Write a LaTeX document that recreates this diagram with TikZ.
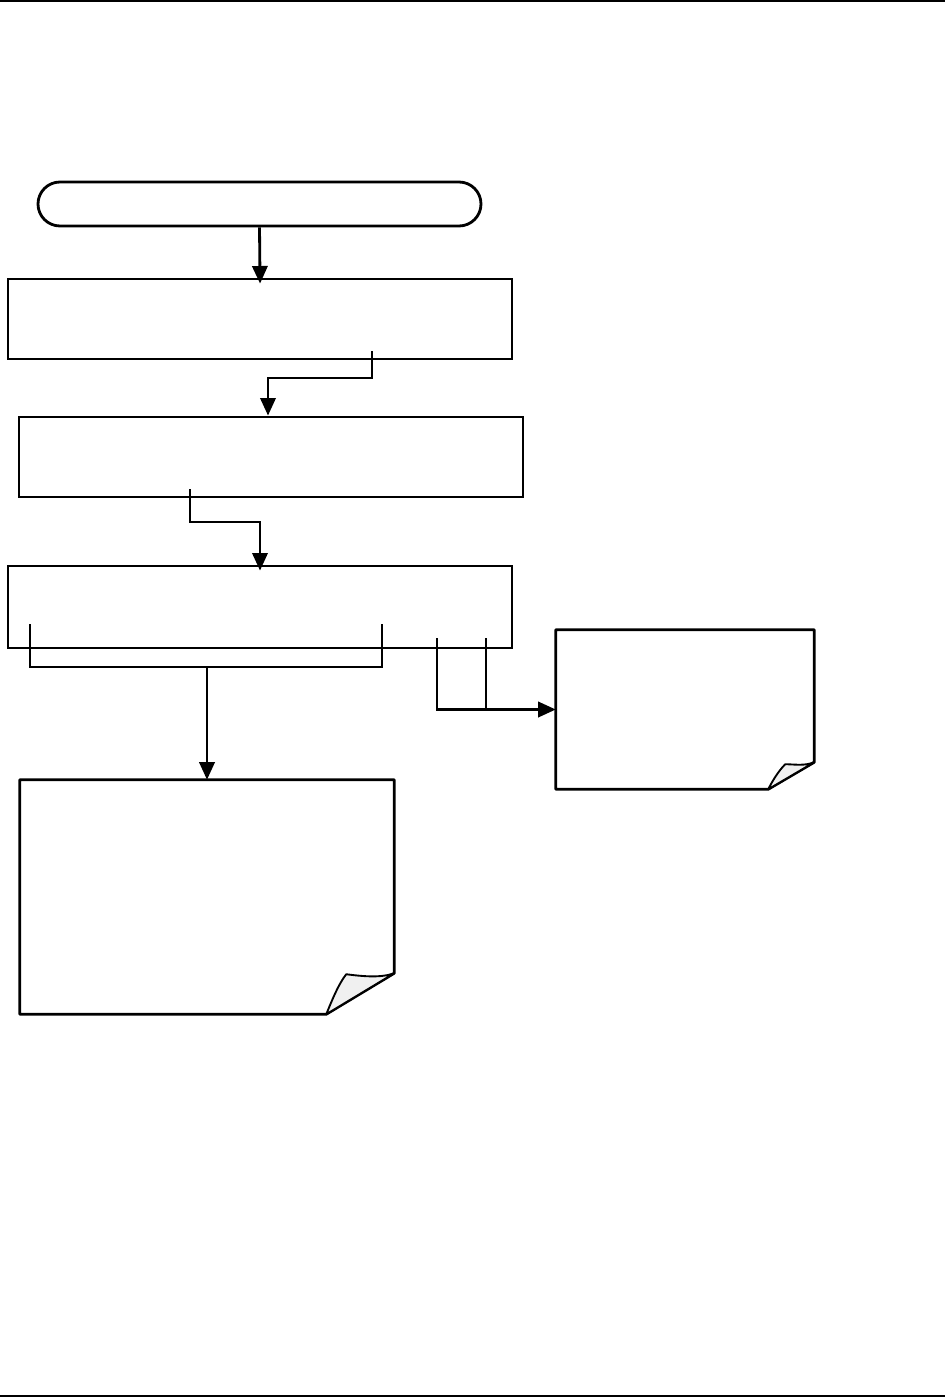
\documentclass[tikz,border=0pt]{standalone}
\usetikzlibrary{arrows.meta, calc}

\begin{document}
\begin{tikzpicture}[
  x=0.3mm, y=-0.3mm,
  >={Triangle[length=15pt, width=13pt]},
  stepbox/.style={draw, line width=2.4pt, minimum width=151.2mm,
    minimum height=24mm, inner sep=0pt},
  startbox/.style={draw, line width=2.4pt, rounded corners=6.6mm,
    minimum width=132.9mm, minimum height=13.2mm, inner sep=0pt},
  paper/.style={inner sep=0pt},
  conn/.style={line width=2.4pt},
  edge/.style={line width=2.4pt, line join=round},
  curl/.style={line width=1.6pt, fill=gray!12, line join=round},
  rule/.style={line width=1.6pt},
]

% Page frame
\useasboundingbox (0,0) rectangle (945,1398);
\draw[rule] (0,1) -- (945,1);
\draw[rule] (0,1396) -- (945,1396);

% =============================================
% Steps
% =============================================

\node[startbox] (start) at (259.5,204) {};
\node[stepbox] (box1) at (260,319) {};
\node[stepbox] (box2) at (271,457) {};
\node[stepbox, minimum height=24.6mm] (box3) at (260,607) {};

% =============================================
% Documents
% =============================================

\node[paper, minimum width=77.4mm, minimum height=47.7mm] (docA) at (685,709.5) {};
\node[paper, minimum width=112.2mm, minimum height=70.2mm] (docB) at (207,897) {};

% Doc A outline with folded corner
\coordinate (foldA1) at ($(docA.south east)+(-46,0)$);
\coordinate (foldA2) at ($(docA.south east)+(0,-27)$);
\draw[edge] (docA.north west) -- (docA.north east) -- (foldA2)
  -- (foldA1) -- (docA.south west) -- cycle;
\draw[curl] (foldA1) -- (foldA2)
  .. controls ($(foldA2)+(-10,4)$) and ($(foldA2)+(-20,2)$) .. ($(docA.south east)+(-29,-25)$)
  .. controls ($(docA.south east)+(-36,-18)$) and ($(docA.south east)+(-42,-8)$) .. (foldA1);

% Doc B outline with folded corner
\coordinate (foldB1) at ($(docB.south east)+(-68,0)$);
\coordinate (foldB2) at ($(docB.south east)+(0,-41)$);
\draw[edge] (docB.north west) -- (docB.north east) -- (foldB2)
  -- (foldB1) -- (docB.south west) -- cycle;
\draw[curl] (foldB1) -- (foldB2)
  .. controls ($(foldB2)+(-14,5)$) and ($(foldB2)+(-32,3)$) .. ($(docB.south east)+(-48,-40)$)
  .. controls ($(docB.south east)+(-56,-30)$) and ($(docB.south east)+(-63,-12)$) .. (foldB1);

% =============================================
% Connectors
% =============================================

\draw[conn, ->, shorten >=-1.8mm] (start.south) -- (box1.north);

\coordinate (b1out) at (372,351);
\draw[conn, ->] (b1out) -- (372,378) -| ($(box2.north)+(-3,0)$);

\coordinate (b2out) at (190,489);
\draw[conn, ->, shorten >=-1.8mm] (b2out) -- (190,522) -| (box3.north);

% Taps on step 3
\coordinate (tapL) at (30,624);
\coordinate (tapR) at (382,624);
\coordinate (joinB) at (207,667);
\draw[conn] (tapL) -- (tapL |- joinB) -- (tapR |- joinB) -- (tapR);
\draw[conn, ->] (joinB) -- (docB.north);

\coordinate (tapC) at (437,638);
\coordinate (tapD) at (486,638);
\draw[conn, ->] (tapC) |- (docA.west);
\draw[conn] (tapD) -- (tapD |- docA.west);

\end{tikzpicture}
\end{document}
